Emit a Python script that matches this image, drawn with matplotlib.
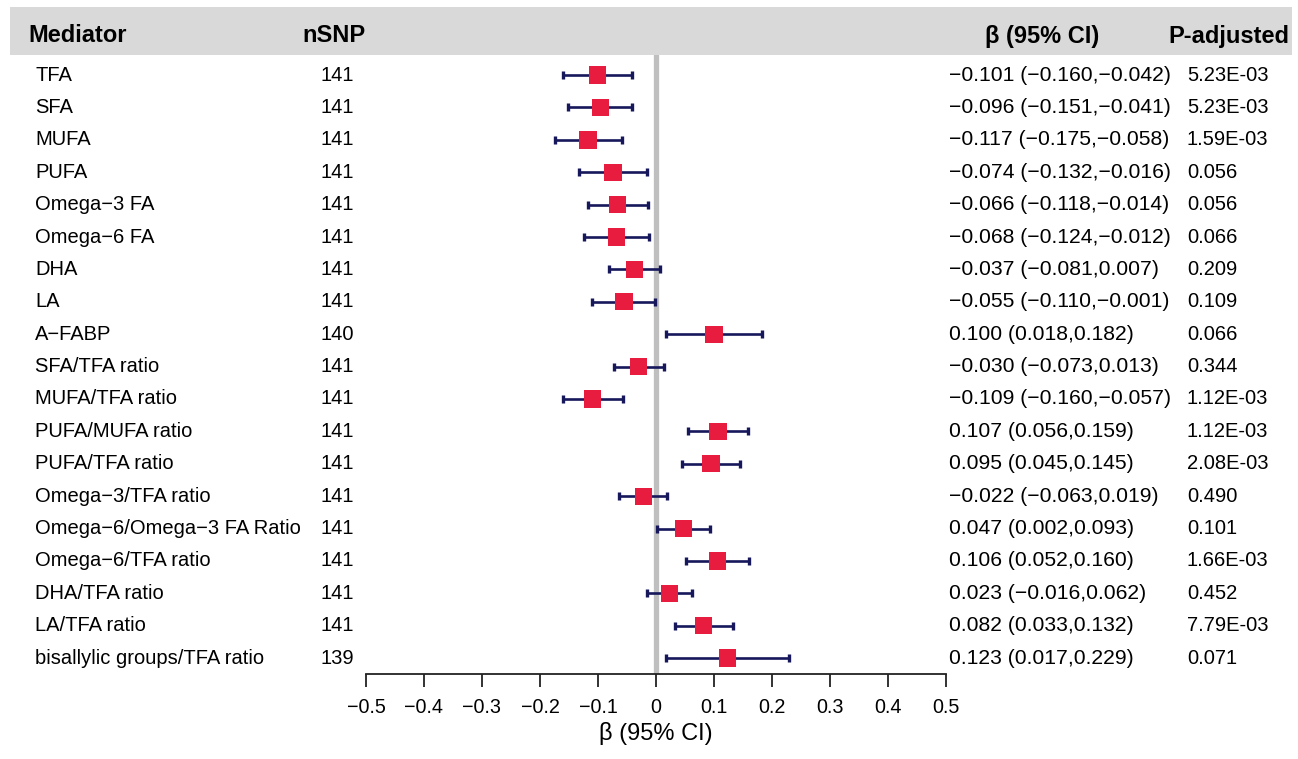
import matplotlib
matplotlib.use('Agg')
import matplotlib.pyplot as plt
import matplotlib.transforms as mtransforms
from matplotlib.patches import Rectangle
import numpy as np

plt.rcParams['font.family'] = ['Liberation Sans', 'DejaVu Sans']

mediators = ['TFA', 'SFA', 'MUFA', 'PUFA', 'Omega\u22123 FA', 'Omega\u22126 FA', 'DHA', 'LA',
             'A\u2212FABP', 'SFA/TFA ratio', 'MUFA/TFA ratio', 'PUFA/MUFA ratio',
             'PUFA/TFA ratio', 'Omega\u22123/TFA ratio', 'Omega\u22126/Omega\u22123 FA Ratio',
             'Omega\u22126/TFA ratio', 'DHA/TFA ratio', 'LA/TFA ratio',
             'bisallylic groups/TFA ratio']
nsnp = [141, 141, 141, 141, 141, 141, 141, 141, 140, 141, 141, 141, 141, 141, 141, 141, 141, 141, 139]
beta = [-0.101, -0.096, -0.117, -0.074, -0.066, -0.068, -0.037, -0.055, 0.100, -0.030,
        -0.109, 0.107, 0.095, -0.022, 0.047, 0.106, 0.023, 0.082, 0.123]
ci_low = [-0.160, -0.151, -0.175, -0.132, -0.118, -0.124, -0.081, -0.110, 0.018, -0.073,
          -0.160, 0.056, 0.045, -0.063, 0.002, 0.052, -0.016, 0.033, 0.017]
ci_high = [-0.042, -0.041, -0.058, -0.016, -0.014, -0.012, 0.007, -0.001, 0.182, 0.013,
           -0.057, 0.159, 0.145, 0.019, 0.093, 0.160, 0.062, 0.132, 0.229]
p_adj = ['5.23E-03', '5.23E-03', '1.59E-03', '0.056', '0.056', '0.066', '0.209', '0.109',
         '0.066', '0.344', '1.12E-03', '1.12E-03', '2.08E-03', '0.490', '0.101', '1.66E-03',
         '0.452', '7.79E-03', '0.071']
x_ticks = [-0.5, -0.4, -0.3, -0.2, -0.1, 0, 0.1, 0.2, 0.3, 0.4, 0.5]


def fmt3(v):
    return '%.3f' % v if v >= 0 else '\u2212%.3f' % -v


def fmt_tick(v):
    if v == 0:
        return '0'
    return '%g' % v if v > 0 else '\u2212%g' % -v


W, H = 1298, 759
fig = plt.figure(figsize=(W / 100, H / 100), dpi=100)

# header band
fig.patches.append(Rectangle((10 / W, 1 - 55 / H), 1282 / W, 48 / H,
                             transform=fig.transFigure, facecolor='#d9d9d9',
                             edgecolor='none', zorder=0))
hy = 1 - 36 / H
fig.text(28 / W, hy, 'Mediator', fontsize=17, fontweight='bold', va='center')
fig.text(302 / W, hy, 'nSNP', fontsize=17, fontweight='bold', va='center')
fig.text(985 / W, hy, '\u03b2 (95% CI)', fontsize=17, fontweight='bold', va='center')
fig.text(1168 / W, hy, 'P-adjusted', fontsize=17, fontweight='bold', va='center')

# forest plot axes: x from -0.5 (366px) to 0.5 (946px)
ax = fig.add_axes([366 / W, 85 / H, 580 / W, 619 / H])
y = np.arange(len(mediators))
b = np.array(beta)
lo = np.array(ci_low)
hi = np.array(ci_high)

ax.axvline(0, color='#bfbfbf', lw=3.8, zorder=1)
ax.errorbar(b, y, xerr=[b - lo, hi - b], fmt='none', ecolor='#17175c',
            elinewidth=1.9, capsize=3.2, capthick=2.4, zorder=2)
ax.scatter(b, y, marker='s', s=155, color='#e81c3e', edgecolors='none', zorder=3)

ax.set_xlim(-0.5, 0.5)
ax.set_ylim(18.49, -0.62)
ax.set_xticks(x_ticks)
ax.set_xticklabels([fmt_tick(t) for t in x_ticks])
for s in ['top', 'left', 'right']:
    ax.spines[s].set_visible(False)
ax.spines['bottom'].set_color('#222222')
ax.spines['bottom'].set_linewidth(1.3)
ax.set_yticks([])
ax.tick_params(axis='x', direction='out', length=9, width=1.3, color='#222222',
               labelsize=14.2, pad=8)
ax.set_xlabel('\u03b2 (95% CI)', fontsize=17, labelpad=4)

# table columns
trans = mtransforms.blended_transform_factory(fig.transFigure, ax.transData)
for i in range(len(mediators)):
    ax.text(35 / W, y[i], mediators[i], transform=trans, fontsize=14.5, va='center', clip_on=False)
    ax.text(320 / W, y[i], str(nsnp[i]), transform=trans, fontsize=14.5, va='center', clip_on=False)
    ci_txt = '%s (%s,%s)' % (fmt3(beta[i]), fmt3(ci_low[i]), fmt3(ci_high[i]))
    ax.text(949 / W, y[i], ci_txt, transform=trans, fontsize=15.2, va='center', clip_on=False)
    ax.text(1187 / W, y[i], p_adj[i], transform=trans, fontsize=14.5, va='center', clip_on=False)

fig.savefig('out.png', dpi=100, facecolor='white')
